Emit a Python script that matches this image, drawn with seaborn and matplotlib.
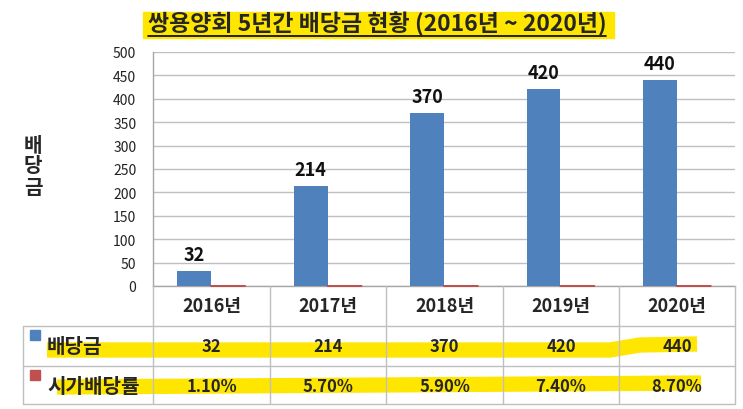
import numpy as np
import pandas as pd
import matplotlib
matplotlib.use("Agg")
import matplotlib.pyplot as plt
import seaborn as sns
from matplotlib.lines import Line2D
from matplotlib.patches import Rectangle

# data
years = ["2016년", "2017년", "2018년", "2019년", "2020년"]
dividend = [32, 214, 370, 420, 440]
yield_rate = [0.011, 0.057, 0.059, 0.074, 0.087]   # plotted as fractions, like the source sheet
series_names = ["배당금", "시가배당률"]
colors = ["#4F81BD", "#C0504D"]

W, H = 743, 410

sns.set_theme(style="white")
plt.rcParams["font.family"] = ["Noto Sans CJK KR", "DejaVu Sans"]

df = pd.DataFrame({
    "year": years * 2,
    "value": dividend + yield_rate,
    "series": [series_names[0]] * 5 + [series_names[1]] * 5,
})

fig = plt.figure(figsize=(W / 100, H / 100), dpi=100)


def fx(x):
    return x / W


def fy(y):
    return 1 - y / H


# plot area in pixels: x 153..735, y 53..287
ax = fig.add_axes([fx(153), fy(287), (735 - 153) / W, (287 - 53) / H])
sns.barplot(data=df, x="year", y="value", hue="series", palette=colors,
            width=0.58, saturation=1, ax=ax, legend=False, zorder=3,
            linewidth=0)
# the rate series is ~0 on this scale: show it as a hairline, like the source
for p in ax.containers[1]:
    p.set_edgecolor(colors[1])
    p.set_linewidth(1.3)
    p.set_snap(False)
    p.set_clip_on(False)
    p.set_zorder(4)

ax.set_ylim(0, 500)
ax.set_xlim(-0.5, 4.5)
ax.set_yticks(np.arange(0, 501, 50))
ax.tick_params(axis="y", labelsize=10, length=0, pad=12, colors="#222222")
ax.set_xticks([])
ax.set_xlabel("")
ax.set_ylabel("")
ax.yaxis.grid(True, color="#BFBFBF", linewidth=1)
ax.set_axisbelow(True)
for s in ["top", "right"]:
    ax.spines[s].set_visible(False)
for s in ["left", "bottom"]:
    ax.spines[s].set_color("#A6A6A6")
    ax.spines[s].set_linewidth(1)
    ax.spines[s].set_zorder(2)

ax.bar_label(ax.containers[0], labels=[str(v) for v in dividend],
             padding=5, fontsize=13, fontweight="bold", color="#111111")

# y axis title, stacked characters
fig.text(fx(33), fy(166), "배\n당\n금", ha="center", va="center",
         fontsize=14.5, fontweight="bold", linespacing=1.0)

# title with highlighter and underline
fig.add_artist(Rectangle((fx(143), fy(39)), (614 - 143) / W, 26 / H,
                         transform=fig.transFigure, color="#FFE600", zorder=0))
fig.text(fx(377), fy(24), "쌍용양회 5년간 배당금 현황 (2016년 ~ 2020년)",
         ha="center", va="center", fontsize=16.5, fontweight="bold", zorder=2)
fig.add_artist(Line2D([fx(148), fx(606)], [fy(37), fy(37)],
                      transform=fig.transFigure, color="black", lw=1.2, zorder=2))

# highlighter strokes behind table rows
fig.add_artist(Line2D([fx(47), fx(610), fx(640), fx(697)],
                      [fy(351), fy(351), fy(346), fy(345)],
                      transform=fig.transFigure, color="#FFE600", lw=11,
                      solid_capstyle="butt", solid_joinstyle="round", zorder=0))
fig.add_artist(Line2D([fx(57), fx(701)], [fy(388), fy(384)],
                      transform=fig.transFigure, color="#FFE600", lw=11,
                      solid_capstyle="butt", zorder=0))

# data table grid
grid_c = "#BFBFBF"
col_edges = [153, 270, 386, 503, 619, 735]
for x in col_edges:
    fig.add_artist(Line2D([fx(x), fx(x)], [fy(287), fy(405)],
                          transform=fig.transFigure, color=grid_c, lw=1))
fig.add_artist(Line2D([fx(23), fx(23)], [fy(327), fy(405)],
                      transform=fig.transFigure, color=grid_c, lw=1))
for y in [327, 367, 405]:
    fig.add_artist(Line2D([fx(23), fx(735)], [fy(y), fy(y)],
                          transform=fig.transFigure, color=grid_c, lw=1))

# table text
for i in range(5):
    cx = (col_edges[i] + col_edges[i + 1]) / 2
    fig.text(fx(cx), fy(307), years[i], ha="center", va="center",
             fontsize=13, fontweight="bold")
    fig.text(fx(cx), fy(347), str(dividend[i]), ha="center", va="center",
             fontsize=12, fontweight="bold")
    fig.text(fx(cx), fy(387), f"{yield_rate[i] * 100:.2f}%", ha="center",
             va="center", fontsize=12, fontweight="bold")

for name, c, y in zip(series_names, colors, [346, 386]):
    fig.add_artist(Rectangle((fx(30), fy(y - 5)), 10 / W, 10 / H,
                             transform=fig.transFigure, color=c))
    fig.text(fx(47), fy(y + 1), name, ha="left", va="center",
             fontsize=14.5, fontweight="bold")

fig.savefig("out.png", dpi=100)
